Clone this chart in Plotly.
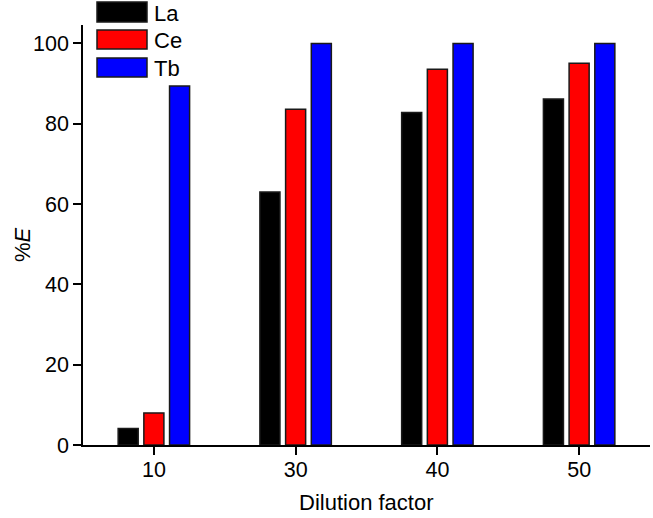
import plotly.graph_objects as go

categories = ["10", "30", "40", "50"]
la_values = [4.1, 63.0, 82.8, 86.2]
ce_values = [8.0, 83.6, 93.6, 95.1]
tb_values = [89.4, 100.0, 100.0, 100.0]
series_names = ["La", "Ce", "Tb"]
series_colors = ["#000000", "#ff0000", "#0000ff"]
y_ticks = [0, 20, 40, 60, 80, 100]

FONT = "Liberation Sans, Arial, sans-serif"
FS = 21.5
FT = 22
W, H = 653, 518
ML, MR, MT, MB = 83, 3, 25, 73

fig = go.Figure()
for name, vals, col in zip(series_names, [la_values, ce_values, tb_values], series_colors):
    fig.add_trace(go.Bar(
        x=categories, y=vals, name=name,
        marker=dict(color=col, line=dict(color="#1a1a1a", width=1.5)),
        showlegend=False,
    ))

pw = W - ML - MR
ph = H - MT - MB
def px_x(v):
    return (v - ML) / pw
def px_y(v):
    return (H - MB - v) / ph

shapes = []
annotations = []
legend_rows = [(2, 22), (30, 49), (58, 77)]
for (top, bot), name, col in zip(legend_rows, series_names, series_colors):
    shapes.append(dict(type="rect", xref="paper", yref="paper",
                       x0=px_x(97), x1=px_x(147), y0=px_y(bot), y1=px_y(top),
                       fillcolor=col, line=dict(color="#1a1a1a", width=1.5)))
    annotations.append(dict(xref="paper", yref="paper", x=px_x(152), y=px_y((top + bot) / 2 + 1),
                            text=name, showarrow=False, xanchor="left", yanchor="middle",
                            font=dict(family=FONT, size=FT, color="#000")))

annotations.append(dict(xref="paper", yref="paper", x=px_x(366), y=px_y(502),
                        text="Dilution factor", showarrow=False,
                        xanchor="center", yanchor="middle",
                        font=dict(family=FONT, size=FT, color="#000")))
annotations.append(dict(xref="paper", yref="paper", x=px_x(22), y=px_y(245),
                        text="%<i>E</i>", showarrow=False, textangle=-90,
                        xanchor="center", yanchor="middle",
                        font=dict(family=FONT, size=FT, color="#000")))

fig.update_layout(
    width=W, height=H,
    margin=dict(l=ML, r=MR, t=MT, b=MB, autoexpand=False),
    paper_bgcolor="white", plot_bgcolor="white",
    barmode="group", bargap=0.456, bargroupgap=0.22,
    font=dict(family=FONT, size=FS, color="#000"),
    shapes=shapes, annotations=annotations,
    xaxis=dict(
        type="category", range=[-0.5, 3.5], automargin=False,
        showline=True, linecolor="#000", linewidth=1.5,
        ticks="outside", ticklen=8, tickwidth=1.5, tickcolor="#000",
        ticklabelstandoff=-4,
        showgrid=False, zeroline=False,
        tickfont=dict(family=FONT, size=FS),
    ),
    yaxis=dict(
        range=[0, 104.6], tickvals=y_ticks, automargin=False,
        showline=True, linecolor="#000", linewidth=1.5,
        ticks="outside", ticklen=8, tickwidth=1.5, tickcolor="#000",
        showgrid=False, zeroline=False,
        tickfont=dict(family=FONT, size=FS),
    ),
)

fig.write_html(
    "out.html",
    config={"displayModeBar": False},
    post_script="document.body.style.margin='0';document.body.style.overflow='hidden';",
)
